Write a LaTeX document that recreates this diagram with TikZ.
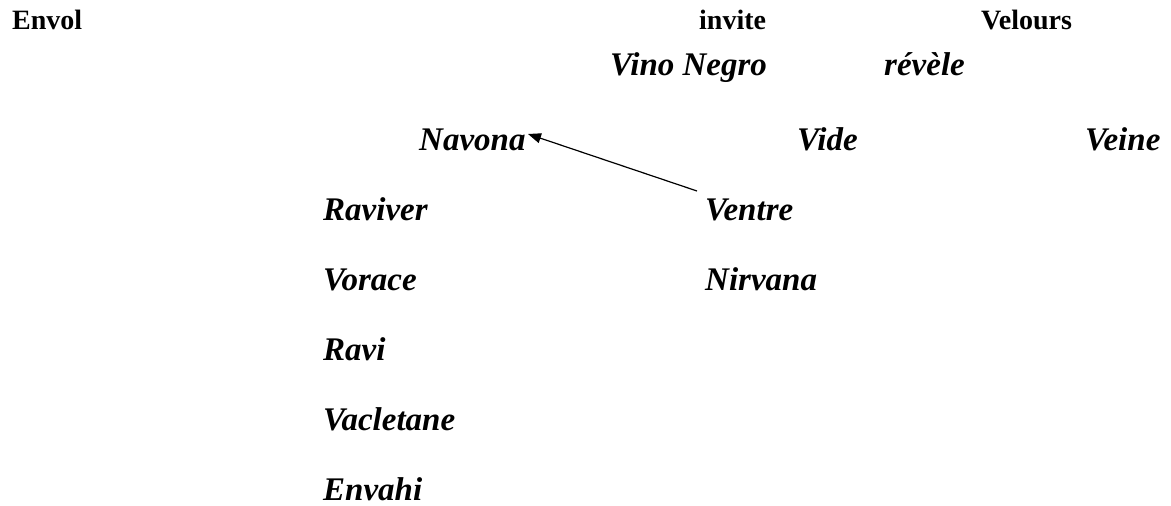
\documentclass[tikz,border=0pt]{standalone}
\usepackage{fontspec}
\setmainfont{Liberation Serif}
\usetikzlibrary{arrows.meta}
\tikzset{
  upw/.style={anchor=base west, inner sep=0pt, font=\fontsize{28}{32}\selectfont\bfseries},
  itw/.style={anchor=base west, inner sep=0pt, font=\fontsize{33}{38}\selectfont\bfseries\itshape},
  arr/.style={line width=1.2pt, -{Triangle[length=13pt,width=10pt]}}
}
\begin{document}
\begin{tikzpicture}[x=1pt,y=-1pt]
\useasboundingbox (0,0) rectangle (1171,506);
\node[upw] (envol) at (12,30) {Envol};
\node[upw] (invite) at (699,30) {invite};
\node[upw] (velours) at (981,30) {Velours};
\node[itw] (vino) at (610,75) {Vino Negro};
\node[itw] (revele) at (884,75) {révèle};
\node[itw] (navona) at (419,150) {Navona};
\node[itw] (vide) at (797,150) {Vide};
\node[itw] (veine) at (1085,150) {Veine};
\node[itw] (raviver) at (323,220) {Raviver};
\node[itw] (ventre) at (705,220) {Ventre};
\node[itw] (vorace) at (323,290) {Vorace};
\node[itw] (nirvana) at (705,290) {Nirvana};
\node[itw] (ravi) at (323,360) {Ravi};
\node[itw] (vacletane) at (323,430) {Vacletane};
\node[itw] (envahi) at (323,500) {Envahi};
\coordinate (tail) at (697,191);
\coordinate (head) at (528,134);
\draw[arr] (tail) -- (head);
\end{tikzpicture}
\end{document}
